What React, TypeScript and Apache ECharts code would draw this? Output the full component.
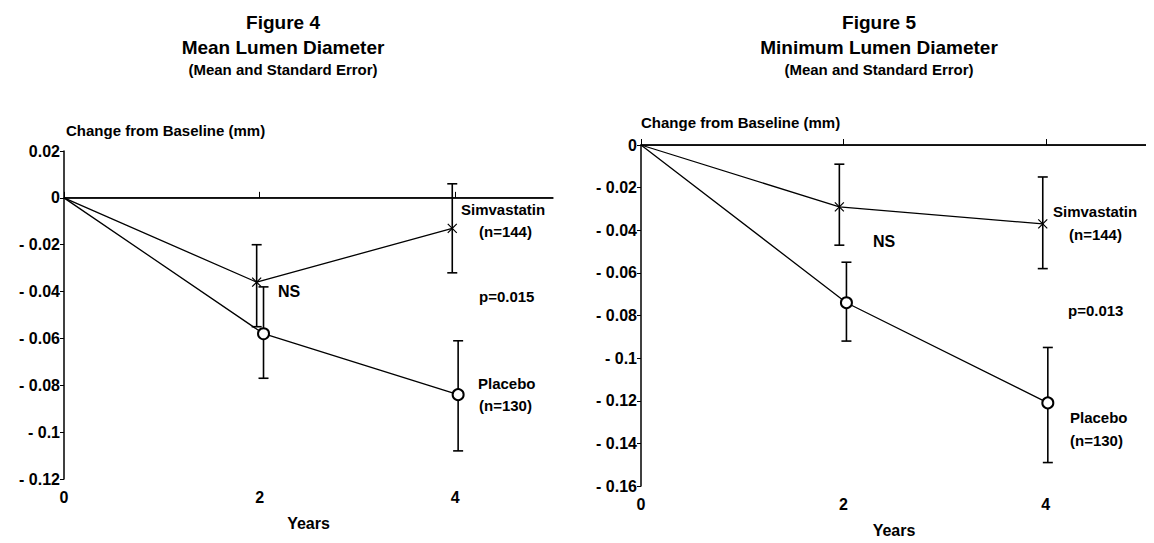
import React, { useEffect, useRef } from "react";
import * as echarts from "echarts";

const years = [0, 2, 4];
// Figure 4 (Mean Lumen Diameter)
const f4SimX = [0, 1.97, 3.97];
const f4Sim = [0, -0.036, -0.013];
const f4SimLo = [0, -0.055, -0.032];
const f4SimHi = [0, -0.02, 0.006];
const f4PlaX = [0, 2.04, 4.03];
const f4Pla = [0, -0.058, -0.084];
const f4PlaLo = [0, -0.077, -0.108];
const f4PlaHi = [0, -0.038, -0.061];
// Figure 5 (Minimum Lumen Diameter)
const f5SimX = [0, 1.96, 3.97];
const f5Sim = [0, -0.029, -0.037];
const f5SimLo = [0, -0.047, -0.058];
const f5SimHi = [0, -0.009, -0.015];
const f5PlaX = [0, 2.03, 4.02];
const f5Pla = [0, -0.074, -0.121];
const f5PlaLo = [0, -0.092, -0.149];
const f5PlaHi = [0, -0.055, -0.095];

const FONT = "Liberation Sans, Arial, sans-serif";
const crossPath = "path://M0,0L10,10M10,0L0,10";
const O = 8; // body margin offset

function fmt(v: number) {
  if (Math.abs(v) < 1e-9) return "0";
  const a = String(+Math.abs(v).toFixed(2));
  return v < 0 ? "- " + a : a;
}

function errSeries(idx: number, xs: number[], lo: number[], hi: number[]) {
  const data = xs.map((x, i) => [x, lo[i], hi[i]]).filter((d, i) => i > 0);
  return {
    type: "custom",
    xAxisIndex: idx,
    yAxisIndex: idx,
    data,
    z: 3,
    renderItem: (params: any, api: any) => {
      const x = api.value(0);
      const p1 = api.coord([x, api.value(1)]);
      const p2 = api.coord([x, api.value(2)]);
      const w = 5;
      const st = { stroke: "#000", lineWidth: 1.6 };
      return {
        type: "group",
        children: [
          { type: "line", shape: { x1: p1[0], y1: p1[1], x2: p2[0], y2: p2[1] }, style: st },
          { type: "line", shape: { x1: p1[0] - w, y1: p1[1], x2: p1[0] + w, y2: p1[1] }, style: st },
          { type: "line", shape: { x1: p2[0] - w, y1: p2[1], x2: p2[0] + w, y2: p2[1] }, style: st },
        ],
      };
    },
  };
}

function lineSeries(idx: number, xs: number[], ys: number[], cross: boolean) {
  return {
    type: "line",
    xAxisIndex: idx,
    yAxisIndex: idx,
    data: xs.map((x, i) => [x, ys[i]]),
    lineStyle: { color: "#000", width: 1.3 },
    symbol: (v: any, p: any) => (p.dataIndex === 0 ? "none" : cross ? crossPath : "emptyCircle"),
    symbolSize: cross ? 9 : 11,
    itemStyle: cross
      ? { color: "none", borderColor: "#000", borderWidth: 1.2 }
      : { color: "#000", borderColor: "#000", borderWidth: 1.2 },
    z: 4,
  };
}

export default function App() {
  const ref = useRef<HTMLDivElement>(null);
  useEffect(() => {
    const chart = echarts.init(ref.current!, null, { renderer: "svg" });
    const axisLabel = { color: "#000", fontFamily: FONT, fontWeight: "bold", fontSize: 16 };
    const xAxis = (idx: number) => ({
      type: "value",
      gridIndex: idx,
      min: 0,
      max: 5,
      interval: 2,
      axisLine: { show: true, lineStyle: { color: "#000", width: 1.5 } },
      axisTick: { show: true, inside: true, length: 6, lineStyle: { color: "#000" } },
      axisLabel: { ...axisLabel, showMaxLabel: false, margin: 10 },
      splitLine: { show: false },
      name: "Years",
      nameLocation: "middle",
      nameGap: 36,
      nameTextStyle: { ...axisLabel },
    });
    const yAxis = (idx: number, min: number, max: number) => ({
      type: "value",
      gridIndex: idx,
      min,
      max,
      interval: 0.02,
      axisLine: { show: true, lineStyle: { color: "#000", width: 1.5 } },
      axisTick: { show: true, length: 4, lineStyle: { color: "#000" } },
      axisLabel: { ...axisLabel, formatter: fmt, margin: 4 },
      splitLine: { show: false },
    });
    const zeroLine = (idx: number) => ({
      type: "line",
      xAxisIndex: idx,
      yAxisIndex: idx,
      data: [[0, 0], [5, 0]],
      symbol: "none",
      lineStyle: { color: "#000", width: 1.3 },
      z: 2,
    });
    const t = (text: string, x: number, y: number, size = 15, align = "left") => ({
      type: "text",
      x: x - O,
      y: y - O,
      style: { text, fill: "#000", font: `bold ${size}px ${FONT}`, textAlign: align, textVerticalAlign: "middle" },
    });
    chart.setOption({
      animation: false,
      grid: [
        { left: 64 - O, top: 151 - O, width: 489, height: 328 },
        { left: 641 - O, top: 145 - O, width: 506, height: 345 },
      ],
      xAxis: [xAxis(0), xAxis(1)],
      yAxis: [yAxis(0, -0.12, 0.02), yAxis(1, -0.16, 0)],
      series: [
        zeroLine(0),
        zeroLine(1),
        lineSeries(0, f4SimX, f4Sim, true),
        lineSeries(0, f4PlaX, f4Pla, false),
        errSeries(0, f4SimX, f4SimLo, f4SimHi),
        errSeries(0, f4PlaX, f4PlaLo, f4PlaHi),
        lineSeries(1, f5SimX, f5Sim, true),
        lineSeries(1, f5PlaX, f5Pla, false),
        errSeries(1, f5SimX, f5SimLo, f5SimHi),
        errSeries(1, f5PlaX, f5PlaLo, f5PlaHi),
      ],
      graphic: [
        t("Figure 4", 283, 22, 19, "center"),
        t("Mean Lumen Diameter", 283, 47, 19, "center"),
        t("(Mean and Standard Error)", 283, 69, 15, "center"),
        t("Figure 5", 879, 22, 19, "center"),
        t("Minimum Lumen Diameter", 879, 47, 19, "center"),
        t("(Mean and Standard Error)", 879, 69, 15, "center"),
        t("Change from Baseline (mm)", 66, 130, 15),
        t("Change from Baseline (mm)", 641, 122, 15),
        t("Simvastatin", 461, 209),
        t("(n=144)", 479, 231),
        t("NS", 278, 291, 16),
        t("p=0.015", 479, 296),
        t("Placebo", 478, 383),
        t("(n=130)", 479, 405),
        t("Simvastatin", 1053, 211),
        t("(n=144)", 1069, 234),
        t("NS", 873, 241, 16),
        t("p=0.013", 1068, 310),
        t("Placebo", 1070, 417),
        t("(n=130)", 1070, 440),
      ],
    });
    return () => chart.dispose();
  }, []);
  return <div ref={ref} style={{ width: 1146, height: 535 }} />;
}
